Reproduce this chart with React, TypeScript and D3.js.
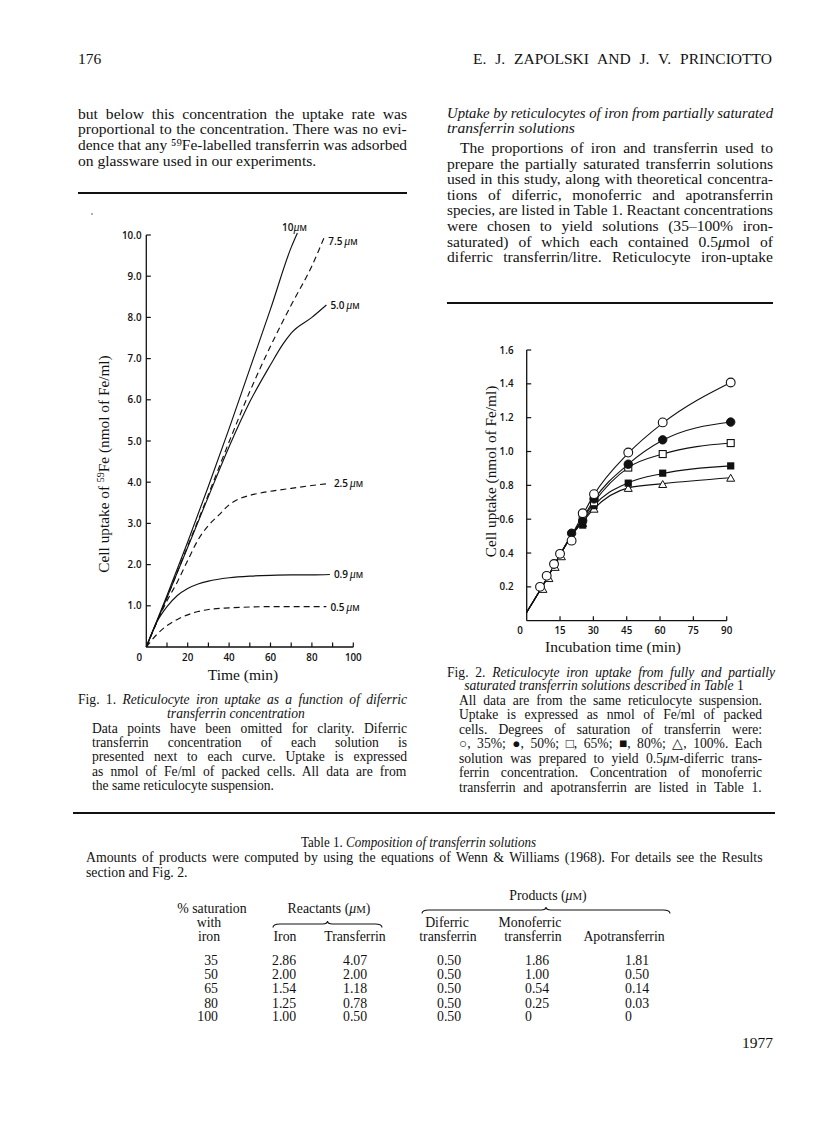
import React from 'react';
import * as d3 from 'd3';

// ---------- Fig. 1 data (time in min, uptake nmol Fe/ml) ----------
const fig1Conc10 = [[0, 0], [10, 1.25], [20, 2.55], [30, 3.9], [40, 5.3], [50, 6.75], [60, 8.2], [70, 9.7], [73, 10.05]];
const fig1Conc75 = [[0, 0], [10, 1.2], [20, 2.45], [30, 3.7], [40, 4.98], [50, 6.2], [60, 7.3], [70, 8.3], [80, 9.25], [86, 9.95]];
const fig1Conc50 = [[0, 0], [10, 1.2], [20, 2.42], [30, 3.65], [40, 4.86], [50, 5.95], [60, 6.85], [66, 7.35], [70, 7.62], [80, 8.0], [87, 8.3]];
const fig1Conc25 = [[0, 0], [5, 0.6], [10, 1.12], [15, 1.58], [20, 2.1], [25, 2.6], [30, 2.95], [35, 3.2], [40, 3.45], [45, 3.6], [50, 3.68], [60, 3.78], [70, 3.85], [80, 3.92], [88.7, 3.97]];
const fig1Conc09 = [[0, 0], [5, 0.6], [10, 0.98], [15, 1.25], [20, 1.42], [25, 1.53], [30, 1.6], [40, 1.68], [50, 1.72], [60, 1.74], [70, 1.75], [80, 1.75], [88.7, 1.76]];
const fig1Conc05 = [[0, 0], [5, 0.3], [10, 0.52], [15, 0.67], [20, 0.78], [25, 0.86], [30, 0.91], [40, 0.95], [50, 0.97], [60, 0.98], [70, 0.98], [80, 0.98], [87, 0.98]];
const fig1Labels = ['10', '7.5', '5.0', '2.5', '0.9', '0.5'];
const fig1XTickValues = [0, 10, 20, 30, 40, 50, 60, 70, 80, 90, 100];
const fig1XLabels = [0, 20, 40, 60, 80, 100];
const fig1YTickValues = [1, 2, 3, 4, 5, 6, 7, 8, 9, 10];

// ---------- Fig. 2 data (incubation time min, uptake nmol Fe/ml) ----------
const fig2Sat35 = [[6, 0.2], [9, 0.265], [12.3, 0.335], [15, 0.395], [20.2, 0.473], [25.2, 0.635], [30.3, 0.748], [45.7, 0.994], [61.2, 1.172], [91.8, 1.408]];
const fig2Sat50 = [[20.2, 0.517], [25.2, 0.59], [30.3, 0.72], [45.7, 0.925], [61.2, 1.069], [91.8, 1.174]];
const fig2Sat65 = [[25.2, 0.615], [30.3, 0.7], [45.7, 0.905], [61.2, 0.985], [91.8, 1.05]];
const fig2Sat80 = [[25.2, 0.565], [30.3, 0.68], [45.7, 0.813], [61.2, 0.872], [91.8, 0.915]];
const fig2Sat100 = [[7.3, 0.186], [10, 0.25], [12.8, 0.316], [15.6, 0.379], [25.2, 0.575], [30.3, 0.66], [45.7, 0.783], [61.2, 0.806], [91.8, 0.843]];
// fitted curves drawn through the points
const fig2FitStart = [[0, 0.05], [10, 0.27], [15, 0.39], [20, 0.5]];
const fig2Fit35 = [[25, 0.62], [30.3, 0.745], [45.7, 0.99], [61.2, 1.168], [91.8, 1.408]];
const fig2Fit50 = [[25, 0.6], [30.3, 0.715], [45.7, 0.925], [61.2, 1.066], [91.8, 1.174]];
const fig2Fit65 = [[25, 0.595], [30.3, 0.7], [45.7, 0.905], [61.2, 0.985], [91.8, 1.05]];
const fig2Fit80 = [[25, 0.585], [30.3, 0.68], [45.7, 0.815], [61.2, 0.87], [91.8, 0.915]];
const fig2Fit100 = [[25, 0.58], [30.3, 0.662], [45.7, 0.785], [61.2, 0.81], [91.8, 0.845]];
const fig2XTickValues = [15, 30, 45, 60, 75, 90];
const fig2YTickValues = [0.2, 0.4, 0.6, 0.8, 1.0, 1.2, 1.4, 1.6];

// ---------- Table 1 ----------
const tableSaturation = ['35', '50', '65', '80', '100'];
const tableIron = ['2.86', '2.00', '1.54', '1.25', '1.00'];
const tableTransferrin = ['4.07', '2.00', '1.18', '0.78', '0.50'];
const tableDiferric = ['0.50', '0.50', '0.50', '0.50', '0.50'];
const tableMonoferric = ['1.86', '1.00', '0.54', '0.25', '0'];
const tableApo = ['1.81', '0.50', '0.14', '0.03', '0'];

// ---------- Page text ( _ toggles italic ) ----------
const leftParaLines = [
  'but below this concentration the uptake rate was',
  'proportional to the concentration. There was no evi-',
  'dence that any \u2075\u2079Fe-labelled transferrin was adsorbed',
  'on glassware used in our experiments.',
];
const rightHeading = ['_Uptake by reticulocytes of iron from partially saturated_', '_transferrin solutions_'];
const rightParaLines = [
  'The proportions of iron and transferrin used to',
  'prepare the partially saturated transferrin solutions',
  'used in this study, along with theoretical concentra-',
  'tions of diferric, monoferric and apotransferrin',
  'species, are listed in Table 1. Reactant concentrations',
  'were chosen to yield solutions (35\u2013100% iron-',
  'saturated) of which each contained 0.5\u03bcmol of',
  'diferric transferrin/litre. Reticulocyte iron-uptake',
];
const fig1CaptionHead = ['Fig. 1. _Reticulocyte iron uptake as a function of diferric_', '_transferrin concentration_'];
const fig1CaptionBody = [
  'Data points have been omitted for clarity. Diferric',
  'transferrin concentration of each solution is',
  'presented next to each curve. Uptake is expressed',
  'as nmol of Fe/ml of packed cells. All data are from',
  'the same reticulocyte suspension.',
];
const fig2CaptionHead = ['Fig. 2. _Reticulocyte iron uptake from fully and partially_', '_saturated transferrin solutions described in Table_ 1'];
const fig2CaptionBody = [
  'All data are from the same reticulocyte suspension.',
  'Uptake is expressed as nmol of Fe/ml of packed',
  'cells. Degrees of saturation of transferrin were:',
  '\u25cb, 35%; \u25cf, 50%; \u25a1, 65%; \u25a0, 80%; \u25b3, 100%. Each',
  'solution was prepared to yield 0.5\u03bcM-diferric trans-',
  'ferrin concentration. Concentration of monoferric',
  'transferrin and apotransferrin are listed in Table 1.',
];
const tableTitle = 'Table 1. _Composition of transferrin solutions_';
const tableNote = [
  'Amounts of products were computed by using the equations of Wenn & Williams (1968). For details see the Results',
  'section and Fig. 2.',
];

const SERIF = '"Liberation Serif", "Times New Roman", serif';
const SANS = '"Open Sans", "DejaVu Sans", sans-serif';
const ink = '#111';

type Seg = { t: string; italic: boolean; scale: number };

function parseSegs(s: string): Seg[] {
  const out: Seg[] = [];
  let italic = false;
  let buf = '';
  const flush = () => {
    if (buf) out.push({ t: buf, italic, scale: 1 });
    buf = '';
  };
  for (let i = 0; i < s.length; i++) {
    const c = s[i];
    if (c === '_') {
      flush();
      italic = !italic;
    } else if (c === '\u03bc') {
      flush();
      out.push({ t: '\u03bc', italic: true, scale: 1 });
      if (s[i + 1] === 'M') {
        out.push({ t: 'M', italic: false, scale: 0.78 });
        i++;
      }
    } else {
      buf += c;
    }
  }
  flush();
  return out;
}

let ctx: CanvasRenderingContext2D | null = null;
function measure(segs: Seg[], size: number): number {
  if (typeof document === 'undefined') return 0;
  if (!ctx) ctx = document.createElement('canvas').getContext('2d');
  if (!ctx) return 0;
  let w = 0;
  for (const s of segs) {
    ctx.font = `${s.italic ? 'italic ' : ''}${size * s.scale}px "Liberation Serif"`;
    w += ctx.measureText(s.t).width;
  }
  return w;
}

function J(props: { x: number; y: number; w?: number; size: number; text: string; anchor?: string }) {
  const { x, y, w, size, text, anchor } = props;
  const segs = parseSegs(text);
  let wordSpacing: number | undefined;
  let textLength: number | undefined;
  if (w) {
    const natural = measure(segs, size);
    const spaces = segs.reduce((a, s) => a + (s.t.match(/ /g) || []).length, 0);
    if (natural > 0 && natural <= w && spaces > 0) {
      wordSpacing = (w - natural) / spaces;
    } else if (natural > w) {
      textLength = w;
    }
  }
  return (
    <text
      x={x}
      y={y}
      fontFamily={SERIF}
      fontSize={size}
      textAnchor={anchor || 'start'}
      wordSpacing={wordSpacing}
      textLength={textLength}
      lengthAdjust={textLength ? 'spacingAndGlyphs' : undefined}
      fill={ink}
    >
      {segs.map((s, i) => (
        <tspan key={i} fontStyle={s.italic ? 'italic' : 'normal'} fontSize={s.scale !== 1 ? size * s.scale : undefined}>
          {s.t}
        </tspan>
      ))}
    </text>
  );
}

function Brace(props: { x1: number; x2: number; y: number }) {
  const { x1, x2, y } = props;
  const m = (x1 + x2) / 2;
  const d = `M${x1},${y + 3.5} Q${x1},${y} ${x1 + 7},${y} L${m - 5},${y} Q${m},${y} ${m},${y - 3} Q${m},${y} ${m + 5},${y} L${x2 - 7},${y} Q${x2},${y} ${x2},${y + 3.5}`;
  return <path d={d} fill="none" stroke={ink} strokeWidth={1.1} />;
}

function Marker(props: { kind: string; x: number; y: number }) {
  const { kind, x, y } = props;
  if (kind === 'oc') return <circle cx={x} cy={y} r={4.4} fill="#fff" stroke={ink} strokeWidth={1.1} />;
  if (kind === 'fc') return <circle cx={x} cy={y} r={4.2} fill={ink} stroke={ink} strokeWidth={1} />;
  if (kind === 'os') return <rect x={x - 3.5} y={y - 3.5} width={7} height={7} fill="#fff" stroke={ink} strokeWidth={1.1} />;
  if (kind === 'fs') return <rect x={x - 3.6} y={y - 3.6} width={7.2} height={7.2} fill={ink} />;
  const h = 7;
  return (
    <path
      d={`M${x},${y - h * 0.55} L${x + 4},${y + h * 0.45} L${x - 4},${y + h * 0.45} Z`}
      fill="#fff"
      stroke={ink}
      strokeWidth={1}
    />
  );
}

export default function App() {
  // Fig. 1 scales
  const x1 = d3.scaleLinear().domain([0, 100]).range([146.3, 353.3]);
  const y1 = d3.scaleLinear().domain([0, 10]).range([647, 235]);
  const line1 = d3
    .line<number[]>()
    .x((d) => x1(d[0]))
    .y((d) => y1(d[1]))
    .curve(d3.curveMonotoneX);
  const fig1Series = [
    { data: fig1Conc10, dashed: false },
    { data: fig1Conc75, dashed: true },
    { data: fig1Conc50, dashed: false },
    { data: fig1Conc25, dashed: true },
    { data: fig1Conc09, dashed: false },
    { data: fig1Conc05, dashed: true },
  ];

  // Fig. 2 scales
  const x2 = d3.scaleLinear().domain([0, 90]).range([526.7, 726.7]);
  const y2 = d3.scaleLinear().domain([0, 1.6]).range([620.7, 350]);
  const line2 = d3
    .line<number[]>()
    .x((d) => x2(d[0]))
    .y((d) => y2(d[1]))
    .curve(d3.curveMonotoneX);
  const fig2Fits = [fig2Fit35, fig2Fit50, fig2Fit65, fig2Fit80, fig2Fit100];
  const fig2Series = [
    { data: fig2Sat100, kind: 'tr' },
    { data: fig2Sat80, kind: 'fs' },
    { data: fig2Sat65, kind: 'os' },
    { data: fig2Sat50, kind: 'fc' },
    { data: fig2Sat35, kind: 'oc' },
  ];

  const tableRowY = [965, 979, 993, 1007.5, 1021];
  const tickFont = { fontFamily: SANS, fontWeight: 600, fontSize: 9.8, fill: ink } as any;
  const BODY = 15.6;
  const CAP = 13.6;
  const TAB = 13.8;

  return (
    <svg
      width={816}
      height={1136}
      viewBox="0 0 816 1136"
      style={{ position: 'absolute', left: 0, top: 0, background: '#fff' }}
    >
      <rect x={0} y={0} width={816} height={1136} fill="#fff" />

      {/* running head */}
      <J x={78} y={64} size={15.5} text="176" />
      <J x={473} y={64} size={15.5} w={300} text="E. J. ZAPOLSKI AND J. V. PRINCIOTTO" />

      {/* left column text */}
      {leftParaLines.map((t, i) => (
        <J key={i} x={78} y={118.5 + i * 15.7} size={BODY} w={i < leftParaLines.length - 1 ? 329 : undefined} text={t} />
      ))}
      <line x1={78} x2={407} y1={193} y2={193} stroke={ink} strokeWidth={1.8} />
      <circle cx={92} cy={214} r={0.8} fill="#444" />

      {/* right column text */}
      {rightHeading.map((t, i) => (
        <J key={i} x={447} y={118 + i * 15} size={BODY} w={i === 0 ? 326 : undefined} text={t} />
      ))}
      {rightParaLines.map((t, i) => (
        <J key={i} x={i === 0 ? 460 : 447} y={153 + i * 15.6} size={BODY} w={i === 0 ? 313 : 326} text={t} />
      ))}
      <line x1={447} x2={773} y1={303} y2={303} stroke={ink} strokeWidth={1.8} />

      {/* ---------------- Fig. 1 ---------------- */}
      <g>
        <line x1={x1(0)} x2={x1(0)} y1={y1(0)} y2={y1(10)} stroke={ink} strokeWidth={1.3} />
        <line x1={x1(0)} x2={x1(100)} y1={y1(0)} y2={y1(0)} stroke={ink} strokeWidth={1.3} />
        {fig1YTickValues.map((v) => (
          <g key={v}>
            <line x1={x1(0)} x2={x1(0) + 4.5} y1={y1(v)} y2={y1(v)} stroke={ink} strokeWidth={1.2} />
            <text x={141.5} y={y1(v) + 3.5} textAnchor="end" {...tickFont}>
              {v.toFixed(1)}
            </text>
          </g>
        ))}
        {fig1XTickValues.filter((v) => v > 0).map((v) => (
          <line key={v} x1={x1(v)} x2={x1(v)} y1={y1(0)} y2={y1(0) - 4.5} stroke={ink} strokeWidth={1.2} />
        ))}
        {fig1XLabels.map((v) => (
          <text key={v} x={v === 0 ? x1(0) - 7 : x1(v)} y={y1(0) + 14} textAnchor="middle" {...tickFont}>
            {v}
          </text>
        ))}
        <J x={243} y={680} size={15.5} anchor="middle" text="Time (min)" />
        <text transform="translate(108.5,464) rotate(-90)" textAnchor="middle" fontFamily={SERIF} fontSize={15.3} fill={ink}>
          Cell uptake of <tspan fontSize={10} dy={-5}>59</tspan>
          <tspan dy={5}>Fe (nmol of Fe/ml)</tspan>
        </text>
        {fig1Series.map((s, i) => (
          <path
            key={i}
            d={line1(s.data as any) || ''}
            fill="none"
            stroke={ink}
            strokeWidth={1.15}
            strokeDasharray={s.dashed ? '6 4' : undefined}
          />
        ))}
        {fig1Series.map((s, i) => {
          const last = s.data[s.data.length - 1];
          const lx = x1(last[0]);
          const ly = y1(last[1]);
          const top = i === 0;
          return (
            <text
              key={'l' + i}
              x={top ? lx - 3 : lx + 4}
              y={top ? ly - 2 : ly + (i === 1 ? 8 : 4)}
              textAnchor={top ? 'middle' : 'start'}
              {...tickFont}
              fontSize={10}
            >
              {fig1Labels[i]}
              {i === 0 ? '' : '\u2009'}
              <tspan fontFamily={SERIF} fontStyle="italic" fontWeight={400} fontSize={12}>
                {'\u03bc'}
              </tspan>
              <tspan fontSize={8}>M</tspan>
            </text>
          );
        })}
      </g>

      {/* Fig. 1 caption */}
      <J x={78} y={704} size={CAP} w={329} text={fig1CaptionHead[0]} />
      <J x={236} y={717.5} size={CAP} anchor="middle" text={fig1CaptionHead[1]} />
      {fig1CaptionBody.map((t, i) => (
        <J key={i} x={92} y={732.5 + i * 14.4} size={CAP} w={i < fig1CaptionBody.length - 1 ? 315 : undefined} text={t} />
      ))}

      {/* ---------------- Fig. 2 ---------------- */}
      <g>
        <line x1={x2(0)} x2={x2(0)} y1={y2(0)} y2={y2(1.6)} stroke={ink} strokeWidth={1.3} />
        <line x1={x2(0)} x2={x2(90)} y1={y2(0)} y2={y2(0)} stroke={ink} strokeWidth={1.3} />
        {fig2YTickValues.map((v) => (
          <g key={v}>
            <line x1={x2(0)} x2={x2(0) + 4.5} y1={y2(v)} y2={y2(v)} stroke={ink} strokeWidth={1.2} />
            <text x={513.5} y={y2(v) + 3.5} textAnchor="end" {...tickFont}>
              {v.toFixed(1)}
            </text>
          </g>
        ))}
        {fig2XTickValues.map((v) => (
          <g key={v}>
            <line x1={x2(v)} x2={x2(v)} y1={y2(0)} y2={y2(0) - 4.5} stroke={ink} strokeWidth={1.2} />
            <text x={x2(v)} y={y2(0) + 13} textAnchor="middle" {...tickFont}>
              {v}
            </text>
          </g>
        ))}
        <text x={520} y={y2(0) + 13} textAnchor="middle" {...tickFont}>
          0
        </text>
        <J x={613} y={652} size={15.5} anchor="middle" text="Incubation time (min)" />
        <text transform="translate(495.5,471.5) rotate(-90)" textAnchor="middle" fontFamily={SERIF} fontSize={15.3} fill={ink}>
          Cell uptake (nmol of Fe/ml)
        </text>
        {fig2Fits.map((f, i) => (
          <path key={i} d={line2(fig2FitStart.concat(f) as any) || ''} fill="none" stroke={ink} strokeWidth={1.1} />
        ))}
        {fig2Series.map((s, i) => (
          <g key={i}>
            {s.data.map((d, j) => (
              <Marker key={j} kind={s.kind} x={x2(d[0])} y={y2(d[1])} />
            ))}
          </g>
        ))}
      </g>

      {/* Fig. 2 caption */}
      <J x={447} y={676.5} size={CAP} w={328} text={fig2CaptionHead[0]} />
      <J x={604} y={690} size={CAP} anchor="middle" text={fig2CaptionHead[1]} />
      {fig2CaptionBody.map((t, i) => (
        <J key={i} x={459} y={704.5 + i * 14.5} size={CAP} w={303} text={t} />
      ))}

      <line x1={73} x2={775} y1={813} y2={813} stroke={ink} strokeWidth={1.8} />

      {/* ---------------- Table 1 ---------------- */}
      <J x={301} y={847} size={TAB} w={235} text={tableTitle} />
      <J x={86} y={862} size={TAB} w={677} text={tableNote[0]} />
      <J x={86} y={876.5} size={TAB} text={tableNote[1]} />

      <J x={548} y={899.5} size={TAB} anchor="middle" text={'Products (\u03bcM)'} />
      <Brace x1={422} x2={670} y={910} />
      <J x={212} y={912.5} size={TAB} anchor="middle" text="% saturation" />
      <J x={329} y={912.5} size={TAB} anchor="middle" text={'Reactants (\u03bcM)'} />
      <Brace x1={273} x2={382} y={924} />
      <J x={209} y={927} size={TAB} anchor="middle" text="with" />
      <J x={447} y={927} size={TAB} anchor="middle" text="Diferric" />
      <J x={530} y={927} size={TAB} anchor="middle" text="Monoferric" />
      <J x={209} y={941} size={TAB} anchor="middle" text="iron" />
      <J x={285} y={941} size={TAB} anchor="middle" text="Iron" />
      <J x={355} y={941} size={TAB} anchor="middle" text="Transferrin" />
      <J x={448} y={941} size={TAB} anchor="middle" text="transferrin" />
      <J x={533} y={941} size={TAB} anchor="middle" text="transferrin" />
      <J x={624} y={941} size={TAB} anchor="middle" text="Apotransferrin" />

      {tableSaturation.map((v, i) => (
        <g key={i}>
          <J x={218} y={tableRowY[i]} size={TAB} anchor="end" text={v} />
          <J x={272} y={tableRowY[i]} size={TAB} text={tableIron[i]} />
          <J x={343} y={tableRowY[i]} size={TAB} text={tableTransferrin[i]} />
          <J x={437} y={tableRowY[i]} size={TAB} text={tableDiferric[i]} />
          <J x={525} y={tableRowY[i]} size={TAB} text={tableMonoferric[i]} />
          <J x={625} y={tableRowY[i]} size={TAB} text={tableApo[i]} />
        </g>
      ))}

      <J x={773} y={1048} size={15.5} anchor="end" text="1977" />
    </svg>
  );
}
